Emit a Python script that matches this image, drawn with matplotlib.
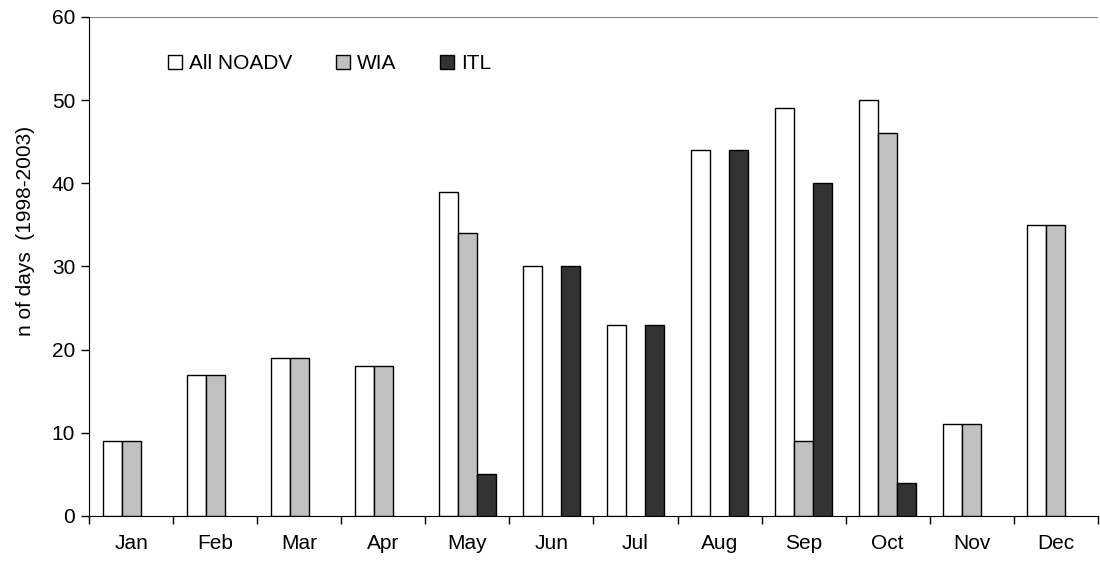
import matplotlib
matplotlib.use("Agg")
import matplotlib.pyplot as plt
import numpy as np

plt.rcParams['font.family'] = ['Liberation Sans', 'DejaVu Sans']

months = ['Jan', 'Feb', 'Mar', 'Apr', 'May', 'Jun', 'Jul', 'Aug', 'Sep', 'Oct', 'Nov', 'Dec']
all_noadv = [9, 17, 19, 18, 39, 30, 23, 44, 49, 50, 11, 35]
wia = [9, 17, 19, 18, 34, 0, 0, 0, 9, 46, 11, 35]
itl = [0, 0, 0, 0, 5, 30, 23, 44, 40, 4, 0, 0]

fig = plt.figure(figsize=(11, 5.63), dpi=100)
ax = fig.add_axes([0.081, 0.0835, 0.917, 0.8865])

x = np.arange(1, 13)
w = 0.225
series = [(all_noadv, -w, 'white', 'All NOADV'),
          (wia, 0, '#c0c0c0', 'WIA'),
          (itl, w, '#333333', 'ITL')]
for vals, off, col, lab in series:
    vals = np.array(vals)
    keep = vals > 0
    ax.bar(x[keep] + off, vals[keep], w, color=col, edgecolor='black',
           linewidth=1, label=lab, zorder=3)

ax.set_xlim(0.5, 12.5)
ax.set_ylim(0, 60)
ax.set_yticks(range(0, 61, 10))
ax.axhline(60, color='#808080', linewidth=1.5, zorder=1)

ax.set_xticks(np.arange(0.5, 12.6, 1))
ax.set_xticklabels([])
ax.set_xticks(x, minor=True)
ax.set_xticklabels(months, minor=True)
ax.tick_params(axis='x', which='minor', length=0, pad=13, labelsize=15)
ax.tick_params(axis='x', which='major', direction='out', length=6, width=1)
ax.tick_params(axis='y', direction='out', length=6, width=1, labelsize=15, pad=4)

for s in ['top', 'right']:
    ax.spines[s].set_visible(False)
ax.spines['left'].set_color('black')
ax.spines['bottom'].set_color('black')

ax.set_ylabel('n of days  (1998-2003)', fontsize=15)
ax.yaxis.set_label_coords(-0.054, 0.571)

ax.legend(loc='upper left', bbox_to_anchor=(0.06, 0.963), ncol=3, frameon=False,
          fontsize=15, handlelength=0.65, handleheight=0.65, handletextpad=0.35,
          columnspacing=2.1)

fig.savefig('out.png', dpi=100)
